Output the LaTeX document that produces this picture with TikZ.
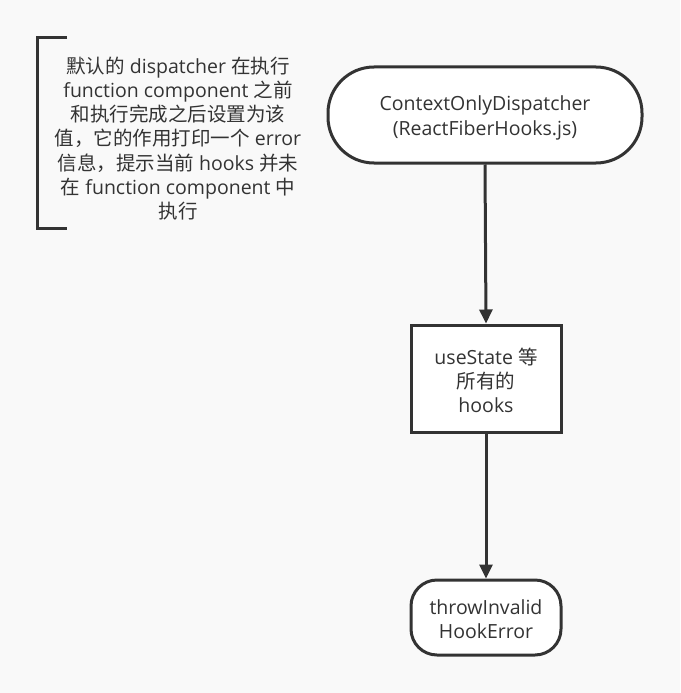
\documentclass[tikz,border=0pt]{standalone}
\usepackage{fontspec}
\setmainfont{Open Sans}
\newfontfamily\cjk{Noto Sans CJK SC}
\usetikzlibrary{arrows.meta}
\definecolor{ink}{HTML}{333333}
\definecolor{paper}{HTML}{F9F9F9}
\newcommand{\zh}[1]{{\cjk #1}}
% keep the line pitch fixed even where the CJK glyphs are tall
\newcommand{\fixedlead}{\lineskiplimit=-50pt\relax}
\begin{document}
\begin{tikzpicture}[x=1pt,y=-1pt,
  every node/.style={text=ink,font=\fontsize{19.5}{24.3}\selectfont\fixedlead,align=center,inner sep=0pt},
  terminal/.style={draw=ink,line width=3pt,fill=white},
  process/.style={draw=ink,line width=3pt,fill=white},
  caption/.style={},
  flow/.style={draw=ink,line width=3pt,-{Triangle[length=14pt,width=13pt]}},
  bracket/.style={draw=ink,line width=3pt}]
  \fill[paper] (0,0) rectangle (680,693);
  \useasboundingbox (0,0) rectangle (680,693);

  % flow chart shapes
  \node[terminal,rounded corners=46pt,minimum width=314pt,minimum height=96pt] (ctx) at (485,115) {};
  \node[process,minimum width=150pt,minimum height=107pt] (hooks) at (486,378.5) {};
  \node[terminal,rounded corners=26pt,minimum width=150pt,minimum height=75pt] (err) at (486,617.5) {};

  % their labels
  \node[caption] (ctxtext) at ([yshift=-3pt]ctx.center) {ContextOnlyDispatcher\\(ReactFiberHooks.js)};
  \node[caption] (hookstext) at ([yshift=-2pt]hooks.center) {useState \zh{等}\\\zh{所有的}\\hooks};
  \node[caption] (errtext) at ([yshift=-2pt]err.center) {throwInvalid\\HookError};

  \draw[flow] (ctx.south) -- (hooks.north);
  \draw[flow] (hooks.south) -- (err.north);

  % annotation with its bracket
  \node (note) at (178,138.5)
    {\zh{默认的} dispatcher \zh{在执行}\\function component \zh{之前}\\\zh{和执行完成之后设置为该}\\\zh{值，它的作用打印一个} error\\\zh{信息，提示当前} hooks \zh{并未}\\\zh{在} function component \zh{中}\\\zh{执行}};
  \coordinate (bt) at (67,38);
  \coordinate (bb) at (67,228);
  \draw[bracket] (bt) -- (37,38) -- (37,228) -- (bb);
\end{tikzpicture}
\end{document}
